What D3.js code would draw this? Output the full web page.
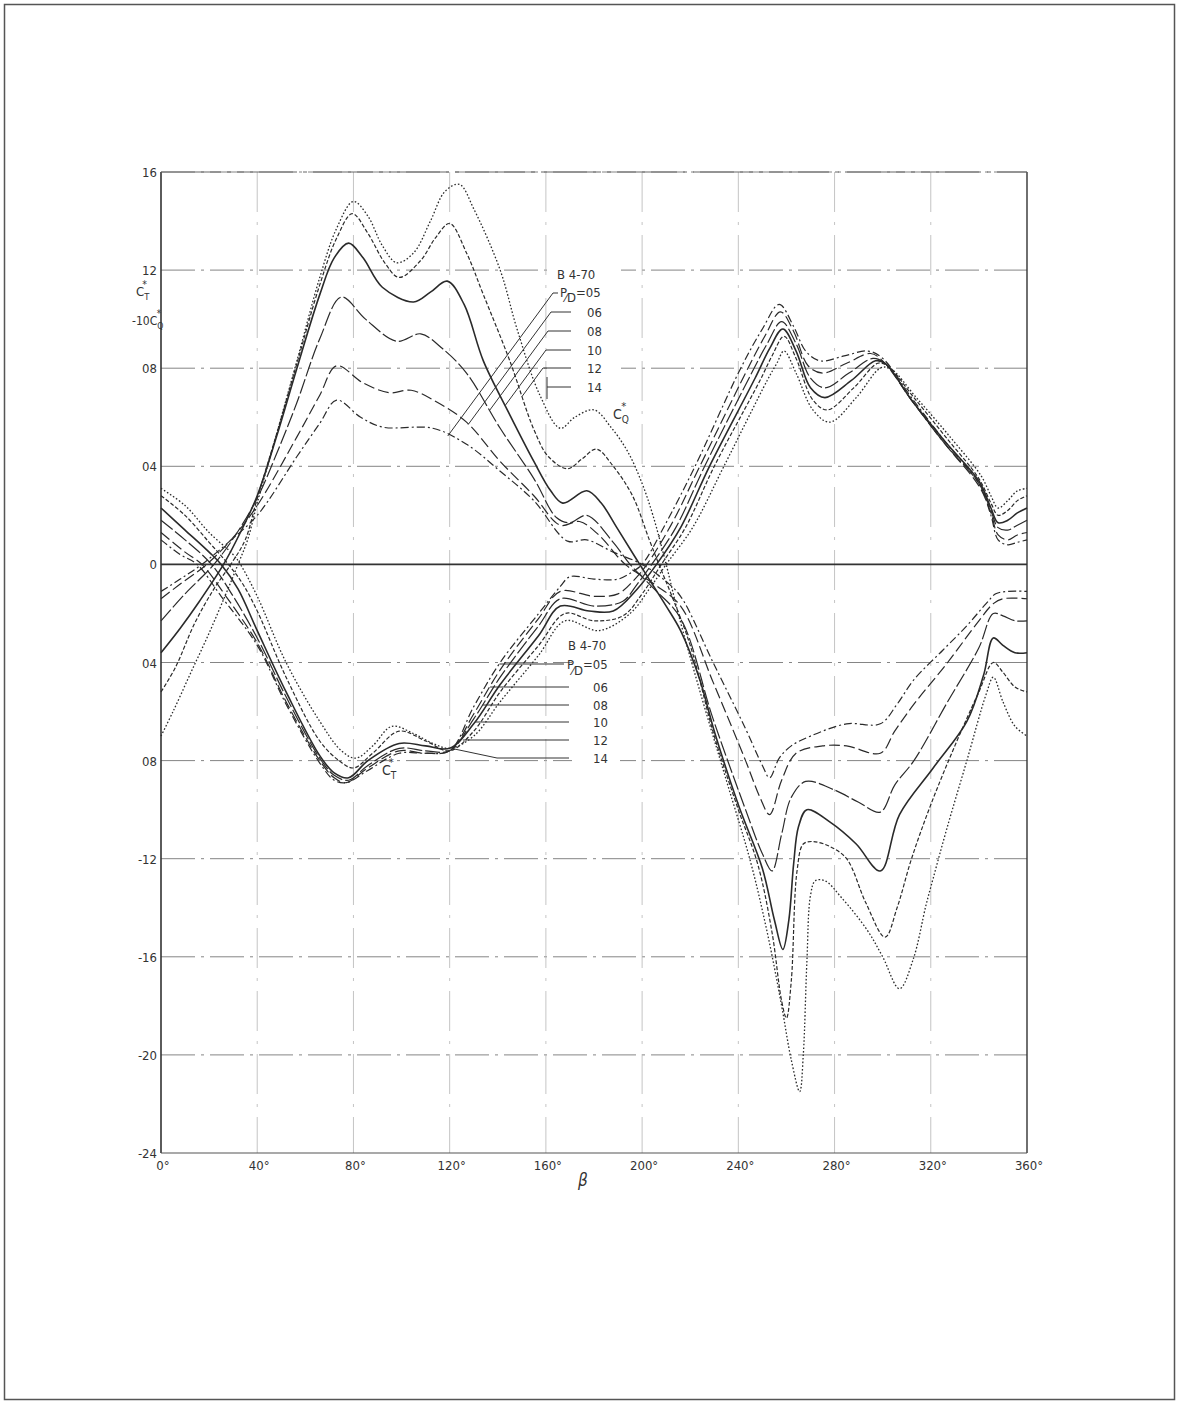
<!DOCTYPE html>
<html>
<head>
<meta charset="utf-8">
<script src="https://cdn.jsdelivr.net/npm/d3@7"></script>
<style>
  body { margin: 0; background: #fff; }
  svg text { font-family: "DejaVu Sans Condensed", "Liberation Sans Narrow", sans-serif; fill: #333; }
</style>
</head>
<body>
<svg id="chart"></svg>
<script>
// pitch ratios of the B 4-70 series
const pdLabels = ["05", "06", "08", "10", "12", "14"];

const xTicks = [0, 40, 80, 120, 160, 200, 240, 280, 320, 360];
const xTickLabels = ["0°", "40°", "80°", "120°", "160°", "200°", "240°", "280°", "320°", "360°"];
const yTicks = [1.6, 1.2, 0.8, 0.4, 0, -0.4, -0.8, -1.2, -1.6, -2.0, -2.4];
const yTickLabels = ["16", "12", "08", "04", "0", "04", "08", "-12", "-16", "-20", "-24"];

// -10 CQ* curves, [beta, value]
const cq05 = [[0,-0.11],[8,-0.06],[17,0],[28,0.09],[40,0.2],[56.5,0.44],[66,0.575],[73,0.67],[83,0.6],[92,0.56],[113,0.555],[127,0.49],[141,0.38],[155,0.26],[169,0.095],[177,0.1],[188,0.05],[200,0],[210,-0.07],[216,-0.13],[229.5,-0.4],[243,-0.67],[250,-0.82],[253,-0.87],[257,-0.79],[262,-0.74],[270,-0.7],[285,-0.65],[299,-0.65],[306,-0.57],[313,-0.47],[325,-0.35],[335,-0.25],[343,-0.16],[347,-0.12],[352,-0.11],[360,-0.11]];
const cq06 = [[0,-0.14],[8,-0.08],[19,0],[30,0.11],[40,0.24],[56.5,0.52],[66,0.69],[73,0.81],[84,0.74],[95,0.7],[104,0.71],[115,0.66],[127,0.58],[141,0.42],[155,0.28],[166,0.16],[174,0.175],[182,0.12],[193,0],[205,-0.08],[216,-0.17],[229.5,-0.48],[243,-0.8],[249,-0.95],[253,-1.02],[258,-0.88],[264,-0.77],[275,-0.74],[285,-0.74],[299,-0.77],[305,-0.68],[313,-0.57],[327,-0.4],[340,-0.23],[346,-0.16],[350,-0.14],[360,-0.14]];
const cq08 = [[0,-0.23],[10,-0.12],[22,0],[31,0.12],[40,0.27],[48,0.45],[56.5,0.66],[66,0.92],[75,1.09],[85,1.0],[98,0.91],[108,0.94],[117,0.88],[127,0.78],[141,0.555],[155,0.35],[164.5,0.19],[170,0.17],[177,0.2],[188,0.09],[195,0],[205,-0.1],[216,-0.22],[229.5,-0.63],[243,-1.0],[250,-1.18],[254,-1.25],[258,-1.1],[262,-0.95],[268,-0.885],[280,-0.92],[290,-0.97],[299,-1.01],[305,-0.9],[313,-0.8],[327,-0.56],[340,-0.34],[346,-0.2],[350,-0.21],[355,-0.23],[360,-0.23]];
const cq10 = [[0,-0.36],[8,-0.26],[16,-0.15],[26,0],[33,0.13],[40,0.28],[48,0.52],[56.5,0.8],[66,1.1],[72,1.25],[78,1.31],[84,1.25],[92,1.13],[105,1.07],[112,1.11],[119,1.155],[126,1.06],[134,0.83],[145,0.61],[155,0.42],[162,0.3],[167,0.25],[177,0.3],[183,0.25],[189.5,0.15],[199,0],[210,-0.17],[216,-0.27],[224,-0.47],[230,-0.68],[240,-0.98],[250,-1.24],[255,-1.45],[258.5,-1.57],[261,-1.45],[263,-1.22],[265,-1.07],[268.5,-1.0],[278,-1.05],[289,-1.14],[299,-1.25],[307,-1.02],[321,-0.83],[335,-0.64],[342,-0.45],[346,-0.3],[350,-0.33],[355,-0.36],[360,-0.36]];
const cq12 = [[0,-0.52],[6,-0.42],[14,-0.24],[22,-0.1],[29,0],[35,0.1],[40,0.27],[48,0.53],[56.5,0.82],[66,1.14],[73,1.33],[79.5,1.43],[86,1.35],[93,1.23],[99,1.17],[108,1.24],[114,1.33],[120,1.39],[127,1.27],[134,1.1],[145,0.83],[155,0.55],[161,0.44],[169,0.39],[175,0.43],[181,0.47],[188,0.4],[196,0.28],[203,0.1],[207,0],[212,-0.12],[220,-0.33],[230,-0.7],[240,-1.0],[248,-1.22],[254,-1.5],[258,-1.78],[260,-1.85],[262,-1.7],[264.4,-1.25],[267,-1.14],[271,-1.13],[278,-1.15],[285,-1.2],[293,-1.38],[301,-1.52],[306,-1.4],[312,-1.2],[320,-0.98],[330,-0.74],[340,-0.52],[346,-0.4],[350,-0.44],[355,-0.5],[360,-0.52]];
const cq14 = [[0,-0.7],[5,-0.6],[12,-0.45],[20,-0.28],[27,-0.12],[32,0],[36,0.1],[40,0.25],[48,0.53],[56.5,0.83],[66,1.17],[73,1.37],[80,1.48],[86,1.42],[92,1.3],[98,1.23],[105,1.27],[112,1.4],[118,1.52],[124,1.55],[130,1.45],[141,1.2],[148,0.96],[157.5,0.69],[166,0.555],[172,0.6],[180,0.63],[187,0.56],[194,0.46],[200,0.33],[204.5,0.2],[210,0],[215,-0.2],[225,-0.55],[235,-0.88],[245,-1.21],[252,-1.5],[258,-1.8],[262,-2.02],[265.5,-2.15],[267,-2.0],[268.5,-1.62],[270,-1.35],[272,-1.29],[276,-1.29],[283,-1.36],[293.5,-1.49],[300,-1.6],[307,-1.73],[312.7,-1.61],[318,-1.39],[321,-1.28],[326.6,-1.08],[335,-0.8],[343,-0.53],[346,-0.46],[350,-0.56],[355,-0.66],[360,-0.7]];

// CT* curves, [beta, value]
const ct05 = [[0,0.1],[8,0.04],[15,0],[25,-0.13],[40,-0.33],[52,-0.57],[66,-0.81],[72,-0.88],[77,-0.89],[86,-0.84],[99,-0.77],[110,-0.77],[120,-0.76],[130,-0.58],[141,-0.4],[157,-0.2],[166,-0.09],[170,-0.05],[180,-0.06],[190,-0.06],[196,-0.03],[200,0],[210,0.17],[222,0.4],[241,0.8],[250,0.96],[257,1.06],[263,0.97],[268,0.87],[274,0.83],[284,0.85],[294,0.87],[300,0.84],[312,0.68],[326,0.5],[340,0.33],[345,0.2],[348,0.1],[352,0.08],[356,0.09],[360,0.1]];
const ct06 = [[0,0.13],[10,0.05],[17,0],[27,-0.13],[40,-0.32],[52,-0.56],[66,-0.8],[72,-0.87],[77,-0.89],[86,-0.83],[99,-0.76],[110,-0.77],[120,-0.76],[130,-0.61],[141,-0.43],[157,-0.22],[166,-0.11],[180,-0.13],[190,-0.12],[197,-0.06],[202,0],[212,0.16],[224,0.4],[243,0.78],[251,0.93],[257.5,1.03],[263,0.95],[269,0.81],[275,0.78],[285,0.82],[295,0.86],[300,0.83],[312,0.67],[326,0.49],[340,0.32],[345,0.21],[348,0.12],[352,0.1],[356,0.12],[360,0.13]];
const ct08 = [[0,0.18],[10,0.1],[21,0],[30,-0.13],[40,-0.3],[52,-0.54],[66,-0.79],[72,-0.86],[78,-0.88],[86,-0.82],[99,-0.75],[110,-0.76],[120,-0.76],[130,-0.63],[141,-0.46],[157,-0.25],[166,-0.14],[180,-0.17],[192,-0.15],[198,-0.08],[204,0],[214,0.15],[226,0.4],[245,0.77],[252,0.9],[258,0.99],[264,0.9],[270,0.76],[276,0.72],[286,0.78],[296,0.84],[301,0.82],[312,0.67],[326,0.49],[340,0.33],[345,0.22],[348,0.15],[352,0.14],[356,0.16],[360,0.18]];
const ct10 = [[0,0.23],[10,0.14],[20,0.05],[25,0],[32,-0.1],[40,-0.27],[52,-0.52],[66,-0.78],[72,-0.85],[78,-0.87],[86,-0.8],[99,-0.73],[110,-0.74],[120,-0.75],[130,-0.65],[141,-0.49],[157,-0.29],[166,-0.17],[178,-0.19],[188,-0.19],[198,-0.1],[206,0],[216,0.15],[228,0.4],[247,0.76],[253,0.88],[258.5,0.96],[264,0.87],[270,0.72],[276,0.68],[287,0.75],[297,0.83],[301,0.82],[312,0.67],[326,0.5],[340,0.34],[345,0.23],[348,0.17],[352,0.18],[356,0.21],[360,0.23]];
const ct12 = [[0,0.28],[10,0.2],[20,0.09],[28,0],[34,-0.08],[40,-0.19],[52,-0.46],[66,-0.72],[74,-0.8],[80,-0.83],[88,-0.77],[99,-0.68],[110,-0.72],[120,-0.76],[130,-0.68],[141,-0.52],[157,-0.33],[168,-0.2],[180,-0.23],[192,-0.21],[200,-0.12],[208,0],[218,0.15],[230,0.4],[249,0.75],[254,0.85],[259,0.93],[264,0.84],[271,0.67],[277,0.63],[288,0.72],[298,0.82],[302,0.81],[313,0.68],[327,0.51],[340,0.35],[345,0.25],[348,0.2],[352,0.22],[356,0.26],[360,0.28]];
const ct14 = [[0,0.31],[10,0.24],[20,0.13],[30,0.04],[33,0],[40,-0.13],[52,-0.4],[66,-0.64],[75,-0.76],[81,-0.79],[88,-0.74],[96,-0.66],[105,-0.69],[113,-0.73],[120,-0.75],[130,-0.7],[141,-0.56],[157,-0.37],[168,-0.23],[182,-0.27],[195,-0.2],[203,-0.1],[210,0],[221,0.15],[234,0.4],[252,0.75],[256,0.82],[259,0.87],[264,0.78],[271,0.63],[278,0.58],[289,0.68],[299,0.8],[303,0.8],[314,0.68],[328,0.52],[341,0.36],[345,0.28],[348,0.23],[352,0.26],[356,0.3],[360,0.31]];

const cqSeries = [cq05, cq06, cq08, cq10, cq12, cq14];
const ctSeries = [ct05, ct06, ct08, ct10, ct12, ct14];

// line style for each pitch ratio
const dashes = ["8,3,2,3", "11,4", "15,3", null, "4,2", "1.6,2"];
const widths = [1.2, 1.2, 1.2, 1.6, 1.2, 1.3];

const W = 1180, H = 1405;
const svg = d3.select("#chart").attr("width", W).attr("height", H);

const x = d3.scaleLinear().domain([0, 360]).range([161, 1027]);
const y = d3.scaleLinear().domain([-2.4, 1.6]).range([1153, 172]);

// page frame
svg.append("rect")
   .attr("x", 4.5).attr("y", 4.5)
   .attr("width", W - 10).attr("height", H - 10)
   .attr("fill", "none").attr("stroke", "#555").attr("stroke-width", 1.5);

// grid
svg.append("g").selectAll("line")
   .data(yTicks.filter(d => d !== 0 && d !== -2.4))
   .enter().append("line")
   .attr("x1", x(0)).attr("x2", x(360))
   .attr("y1", d => y(d)).attr("y2", d => y(d))
   .attr("stroke", "#777").attr("stroke-width", 0.9)
   .attr("stroke-dasharray", "34,6,3,6");

svg.append("g").selectAll("line")
   .data(xTicks.slice(1, -1))
   .enter().append("line")
   .attr("x1", d => x(d)).attr("x2", d => x(d))
   .attr("y1", y(1.6)).attr("y2", y(-2.4))
   .attr("stroke", "#b5b5b5").attr("stroke-width", 0.8)
   .attr("stroke-dasharray", "40,10,3,10");

// gaps in the grid behind the two legends
svg.append("rect").attr("x", 549).attr("y", 262).attr("width", 72).attr("height", 116).attr("fill", "#fff");
svg.append("rect").attr("x", 572).attr("y", 636).attr("width", 48).attr("height", 132).attr("fill", "#fff");

// axes
svg.append("line").attr("x1", x(0)).attr("x2", x(360)).attr("y1", y(0)).attr("y2", y(0))
   .attr("stroke", "#333").attr("stroke-width", 1.6);
svg.append("line").attr("x1", x(0)).attr("x2", x(0)).attr("y1", y(1.6)).attr("y2", y(-2.4))
   .attr("stroke", "#333").attr("stroke-width", 1.6);
svg.append("line").attr("x1", x(360)).attr("x2", x(360)).attr("y1", y(1.6)).attr("y2", y(-2.4))
   .attr("stroke", "#333").attr("stroke-width", 1.4);
svg.append("line").attr("x1", x(0)).attr("x2", x(360)).attr("y1", y(-2.4)).attr("y2", y(-2.4))
   .attr("stroke", "#555").attr("stroke-width", 1.2);
svg.append("line").attr("x1", x(0)).attr("x2", x(360)).attr("y1", y(1.6)).attr("y2", y(1.6))
   .attr("stroke", "#666").attr("stroke-width", 1).attr("stroke-dasharray", "60,6,4,6");

// tick labels
svg.append("g").selectAll("text")
   .data(yTicks)
   .enter().append("text")
   .attr("x", x(0) - 4)
   .attr("y", d => y(d) + 5)
   .attr("text-anchor", "end")
   .attr("font-size", 13)
   .text((d, i) => yTickLabels[i]);

svg.append("g").selectAll("text")
   .data(xTicks)
   .enter().append("text")
   .attr("x", d => x(d) + 2)
   .attr("y", y(-2.4) + 17)
   .attr("text-anchor", "middle")
   .attr("font-size", 13)
   .text((d, i) => xTickLabels[i]);

svg.append("text").attr("x", 578).attr("y", 1186)
   .attr("font-size", 17).attr("font-style", "italic")
   .text("β");

// symbol with subscript and star
function symbol(px, py, pre, sub, size) {
  const t = svg.append("text").attr("x", px).attr("y", py).attr("font-size", size);
  t.append("tspan").text(pre);
  t.append("tspan").attr("font-size", size * 0.72).attr("dy", size * 0.3).text(sub);
  t.append("tspan").attr("font-size", size * 0.8).attr("dx", -size * 0.55).attr("dy", -size * 0.95).text("*");
}
symbol(136, 296, "C", "T", 13);
symbol(132, 325, "-10C", "Q", 12);
symbol(613, 419, "C", "Q", 14);
symbol(382, 775, "C", "T", 14);

// curves
const line = d3.line()
  .x(d => x(d[0]))
  .y(d => y(d[1]))
  .curve(d3.curveCatmullRom.alpha(0.5));

function drawFamily(list) {
  svg.append("g").selectAll("path")
     .data(list)
     .enter().append("path")
     .attr("d", d => line(d))
     .attr("fill", "none")
     .attr("stroke", "#2a2a2a")
     .attr("stroke-width", (d, i) => widths[i])
     .attr("stroke-dasharray", (d, i) => dashes[i]);
}
drawFamily(cqSeries);
drawFamily(ctSeries);

// linear lookup on a series
function valueAt(arr, b) {
  for (let i = 1; i < arr.length; i++) {
    if (b <= arr[i][0]) {
      const a = arr[i - 1], c = arr[i];
      return a[1] + (c[1] - a[1]) * (b - a[0]) / (c[0] - a[0]);
    }
  }
  return arr[arr.length - 1][1];
}

// upper legend (-10CQ*)
const upRows = [293, 312, 331, 350, 368, 387];
const upBend = [553, 551, 548, 546, 543, 547];
const legendUp = svg.append("g");
legendUp.append("text").attr("x", 557).attr("y", 279).attr("font-size", 13).text("B 4-70");
upRows.forEach((ry, i) => {
  const bx = upBend[i];
  if (i === 5) {
    legendUp.append("line").attr("x1", bx).attr("x2", 571).attr("y1", ry).attr("y2", ry)
      .attr("stroke", "#333").attr("stroke-width", 1);
    legendUp.append("line").attr("x1", bx).attr("x2", bx).attr("y1", ry - 10).attr("y2", ry + 12)
      .attr("stroke", "#333").attr("stroke-width", 1);
  } else {
    legendUp.append("line").attr("x1", bx).attr("x2", i > 0 ? 571 : 558).attr("y1", ry).attr("y2", ry)
      .attr("stroke", "#333").attr("stroke-width", 1);
    // diagonal down to the curve
    let ex = bx, ey = ry;
    for (let t = 0; t < 400; t += 0.5) {
      const px = bx - 0.736 * t, py = ry + t;
      const cy = y(valueAt(cqSeries[i], x.invert(px)));
      if (py >= cy) { ex = px; ey = py; break; }
    }
    legendUp.append("line").attr("x1", bx).attr("y1", ry).attr("x2", ex).attr("y2", ey)
      .attr("stroke", "#333").attr("stroke-width", 1);
  }
  if (i === 0) {
    const t = legendUp.append("text").attr("x", 560).attr("y", ry + 4).attr("font-size", 13);
    t.append("tspan").text("P");
    t.append("tspan").attr("dx", -2).attr("dy", 5).text("⁄D");
    t.append("tspan").attr("dy", -5).text("=" + pdLabels[i]);
  } else {
    legendUp.append("text").attr("x", 587).attr("y", ry + 5).attr("font-size", 13).text(pdLabels[i]);
  }
});

// lower legend (CT*)
const lowRows = [664, 687, 705, 722, 740, 758];
const legendLow = svg.append("g");
legendLow.append("text").attr("x", 568).attr("y", 650).attr("font-size", 13).text("B 4-70");
lowRows.forEach((ry, i) => {
  const target = i === 5 ? ry - 9 : ry;
  const v = y.invert(target);
  let b = 122;
  while (b < 175 && valueAt(ctSeries[i], b) < v) b += 0.1;
  const right = i === 0 ? 564 : 569;
  if (i === 5) {
    legendLow.append("line").attr("x1", right).attr("x2", 497).attr("y1", ry).attr("y2", ry)
      .attr("stroke", "#333").attr("stroke-width", 1);
    legendLow.append("line").attr("x1", 497).attr("x2", x(b)).attr("y1", ry).attr("y2", target)
      .attr("stroke", "#333").attr("stroke-width", 1);
  } else {
    legendLow.append("line").attr("x1", right).attr("x2", x(b)).attr("y1", ry).attr("y2", ry)
      .attr("stroke", "#333").attr("stroke-width", 1);
  }
  if (i === 0) {
    const t = legendLow.append("text").attr("x", 567).attr("y", ry + 5).attr("font-size", 13);
    t.append("tspan").text("P");
    t.append("tspan").attr("dx", -2).attr("dy", 6).text("⁄D");
    t.append("tspan").attr("dy", -6).text("=" + pdLabels[i]);
  } else {
    legendLow.append("text").attr("x", 593).attr("y", ry + 5).attr("font-size", 13).text(pdLabels[i]);
  }
});
</script>
</body>
</html>
